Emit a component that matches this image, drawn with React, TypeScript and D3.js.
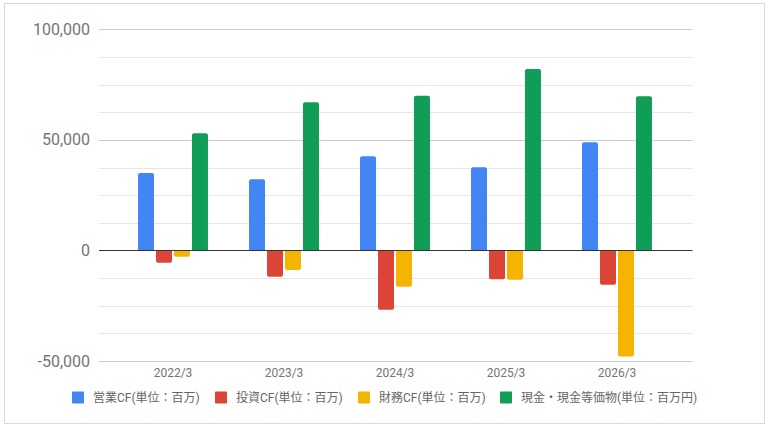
import React from "react";
import * as d3 from "d3";

const categories = ["2022/3", "2023/3", "2024/3", "2025/3", "2026/3"];
const seriesNames = [
  "営業CF(単位：百万)",
  "投資CF(単位：百万)",
  "財務CF(単位：百万)",
  "現金・現金等価物(単位：百万円)",
];
const operatingCF = [35000, 32200, 42600, 37600, 48900];
const investingCF = [-5600, -11900, -26800, -13000, -15500];
const financingCF = [-2900, -8800, -16400, -13300, -48000];
const cashEquivalents = [53000, 67000, 70000, 82000, 69700];
const seriesColors = ["#4285F4", "#DB4437", "#F4B400", "#0F9D58"];
const yTicks = [-50000, 0, 50000, 100000];
const yMinorTicks = [-37500, -25000, -12500, 12500, 25000, 37500, 62500, 75000, 87500];

const W = 768;
const H = 427;
const FONT = "Roboto, 'Noto Sans CJK JP', 'Noto Sans', sans-serif";

function barPath(x: number, w: number, y0: number, y1: number, r: number) {
  const h = Math.abs(y1 - y0);
  const rr = Math.min(r, h / 2, w / 2);
  if (y1 < y0) {
    return `M${x},${y0}V${y1 + rr}Q${x},${y1} ${x + rr},${y1}H${x + w - rr}Q${x + w},${y1} ${x + w},${y1 + rr}V${y0}Z`;
  }
  return `M${x},${y0}V${y1 - rr}Q${x},${y1} ${x + rr},${y1}H${x + w - rr}Q${x + w},${y1} ${x + w},${y1 - rr}V${y0}Z`;
}

export default function App() {
  const series = [operatingCF, investingCF, financingCF, cashEquivalents];
  const plotLeft = 99;
  const plotRight = 692.5;
  const y = d3.scaleLinear().domain([-50000, 100000]).range([361, 29.3]);
  const x0 = d3.scaleBand<string>().domain(categories).range([117.5, 672.5]).paddingInner(0.37).paddingOuter(0.185);
  const x1 = d3
    .scaleBand<number>()
    .domain([0, 1, 2, 3])
    .range([0, x0.bandwidth()])
    .paddingInner(0.111)
    .paddingOuter(0);
  const fmt = (v: number) => d3.format(",")(v).replace("\u2212", "-");

  const legendX = [72, 215, 358, 500];

  return (
    <svg
      width={W}
      height={H}
      style={{ position: "absolute", left: 0, top: 0, background: "#fff" }}
      fontFamily={FONT}
    >
      <rect x={4.5} y={3.5} width={760} height={420} fill="#fff" stroke="#d9d9d9" strokeWidth={1} />
      {yMinorTicks.map((t) => (
        <line key={"m" + t} x1={plotLeft} x2={plotRight} y1={Math.round(y(t)) + 0.5} y2={Math.round(y(t)) + 0.5} stroke="#e6e6e6" />
      ))}
      {yTicks.map((t) =>
        t === 0 ? null : (
          <line key={"g" + t} x1={plotLeft} x2={plotRight} y1={Math.round(y(t)) + 0.5} y2={Math.round(y(t)) + 0.5} stroke="#cccccc" />
        )
      )}
      {yTicks.map((t) => (
        <text key={"t" + t} x={90} y={y(t) + 5.5} textAnchor="end" fontSize={16} fill="#757575">
          {fmt(t)}
        </text>
      ))}
      {categories.map((c, i) => (
        <g key={c}>
          {series.map((s, j) => {
            const bx = (x0(c) as number) + (x1(j) as number);
            return (
              <path
                key={j}
                d={barPath(bx, x1.bandwidth(), y(0), y(s[i]), 2)}
                fill={seriesColors[j]}
              />
            );
          })}
          <text x={(x0(c) as number) + x0.bandwidth() / 2} y={377} textAnchor="middle" fontSize={12} fill="#757575">
            {c}
          </text>
        </g>
      ))}
      <line x1={plotLeft} x2={plotRight} y1={Math.round(y(0)) + 0.5} y2={Math.round(y(0)) + 0.5} stroke="#333333" strokeWidth={1} />
      {seriesNames.map((n, j) => (
        <g key={n}>
          <rect x={legendX[j]} y={391.5} width={12} height={12} rx={1} fill={seriesColors[j]} />
          <text x={legendX[j] + 21} y={402} fontSize={12} fill="#666666">
            {n}
          </text>
        </g>
      ))}
    </svg>
  );
}
